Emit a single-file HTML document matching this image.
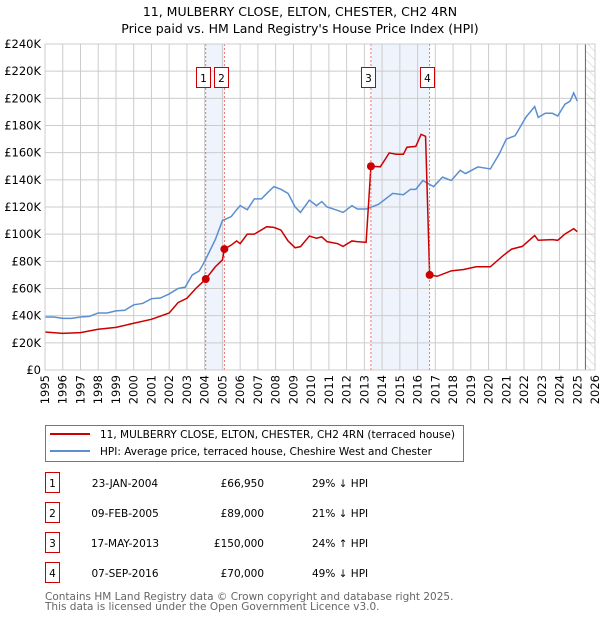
<!DOCTYPE html>
<html><head><meta charset="utf-8"><style>
body{margin:0;background:#fff;font-family:"DejaVu Sans","Liberation Sans",sans-serif;}
svg text{font-family:"DejaVu Sans","Liberation Sans",sans-serif;}
</style></head><body>
<svg id="chart" width="600" height="620" xmlns="http://www.w3.org/2000/svg">
<defs><pattern id="hatch" width="6" height="6" patternUnits="userSpaceOnUse" patternTransform="rotate(-45)"><line x1="0" y1="0" x2="0" y2="6" stroke="#ccc" stroke-width="1"/></pattern></defs>
<text x="300" y="16" text-anchor="middle" font-size="12.5">11, MULBERRY CLOSE, ELTON, CHESTER, CH2 4RN</text>
<text x="300" y="33" text-anchor="middle" font-size="12.5">Price paid vs. HM Land Registry's House Price Index (HPI)</text>
<g id="shade"></g><g id="grid"></g><g id="series"></g><g id="markers"></g><g id="axes"></g>
<g>
<rect x="45.5" y="425.5" width="418" height="36" fill="#fff" stroke="#777"/>
<line x1="50" y1="434" x2="90" y2="434" stroke="#cc0000" stroke-width="2"/>
<text x="100" y="438" font-size="10.5">11, MULBERRY CLOSE, ELTON, CHESTER, CH2 4RN (terraced house)</text>
<line x1="50" y1="451" x2="90" y2="451" stroke="#5b8fd0" stroke-width="2"/>
<text x="100" y="455" font-size="10.5">HPI: Average price, terraced house, Cheshire West and Chester</text>
</g>
<g id="table" font-size="10.5"></g>
<text x="45" y="600" font-size="10.5" fill="#666">Contains HM Land Registry data © Crown copyright and database right 2025.</text>
<text x="45" y="610" font-size="10.5" fill="#666">This data is licensed under the Open Government Licence v3.0.</text>
</svg>
<script>
const hpiYears=[1995,1995.5,1996,1996.5,1997,1997.5,1998,1998.5,1999,1999.5,2000,2000.5,2001,2001.5,2002,2002.5,2002.9,2003.3,2003.7,2004,2004.6,2005,2005.5,2005.8,2006,2006.4,2006.8,2007.2,2007.5,2007.9,2008.3,2008.7,2009.1,2009.4,2009.9,2010.3,2010.6,2010.9,2011.5,2011.8,2012.3,2012.6,2013.1,2013.8,2014.6,2015.2,2015.6,2015.9,2016.3,2016.9,2017.4,2017.9,2018.4,2018.7,2019.4,2020.1,2020.6,2021,2021.5,2022.1,2022.6,2022.8,2023.2,2023.6,2023.9,2024.3,2024.6,2024.8,2025];
const hpiValues=[39,39,38,38,39,39.5,42,42,43.5,44,48,49,52.5,53,56,60,61,70,73,80,96,110,113,118,121,118,126,126,130,135,133,130,120,116,125,121,124,120,117.5,116,121,118.5,118.5,122,130,129,133,133,139.5,135,142,139.5,147,144.6,149.5,148,159,170,172.5,186,194,186,189,189,187,195.6,198,204,198];
const priceYears=[1995,1996,1997,1998,1999,2000,2001,2002,2002.5,2003,2003.5,2004.06,2004.6,2005.0,2005.11,2005.5,2005.8,2006,2006.4,2006.8,2007.5,2007.9,2008.3,2008.7,2009.1,2009.4,2009.9,2010.3,2010.6,2010.9,2011.5,2011.8,2012.3,2012.6,2013.1,2013.37,2013.9,2014.2,2014.4,2014.8,2015.2,2015.4,2015.9,2016.2,2016.45,2016.68,2017.1,2017.9,2018.6,2019.3,2020.1,2020.8,2021.3,2021.9,2022.6,2022.8,2023.6,2023.9,2024.3,2024.8,2025];
const priceValues=[28,27,27.5,30,31.4,34.4,37.3,42,49.6,52.8,60,66.95,76,81,89,92,95,93,100,100,105.5,105,103,95,90,90.8,98.6,97,98,94.5,93,91,95,94.5,94,150,149.6,155.6,159.8,158.8,158.8,164,164.6,173.5,172,70,69,73,74,76,76,84,89,91,99,95.5,96,95.5,100,104,101.8];
const saleLabels=["1","2","3","4"];
const saleYears=[2004.06,2005.11,2013.37,2016.68];
const saleValues=[66.95,89,150,70];
const saleDates=["23-JAN-2004","09-FEB-2005","17-MAY-2013","07-SEP-2016"];
const salePrices=["£66,950","£89,000","£150,000","£70,000"];
const saleHpi=["29% ↓ HPI","21% ↓ HPI","24% ↑ HPI","49% ↓ HPI"];
const yTicks=[0,20,40,60,80,100,120,140,160,180,200,220,240];
const xTicks=[1995,1996,1997,1998,1999,2000,2001,2002,2003,2004,2005,2006,2007,2008,2009,2010,2011,2012,2013,2014,2015,2016,2017,2018,2019,2020,2021,2022,2023,2024,2025,2026];
const X0=45,X1=595,Y0=370,Y1=44;
const xs=y=>X0+(y-1995)/(2026-1995)*(X1-X0);
const ys=v=>Y0-v/240*(Y0-Y1);
const NS="http://www.w3.org/2000/svg";
function mk(tag,parent,attrs){const e=document.createElementNS(NS,tag);for(const k in attrs)e.setAttribute(k,attrs[k]);document.getElementById(parent).appendChild(e);return e;}
yTicks.forEach(v=>{const l=mk('line','grid',{x1:X0,x2:X1,y1:ys(v),y2:ys(v),stroke:'#ccc'});


const t=mk('text','axes',{x:X0-4,y:ys(v)+4,'text-anchor':'end','font-size':'11.5'});t.textContent=v===0?'£0':'£'+v+'K';

});
xTicks.forEach(y=>{const l=mk('line','grid',{x1:xs(y),x2:xs(y),y1:Y1,y2:Y0,stroke:'#ccc'});


const t=mk('text','axes',{x:0,y:0,'text-anchor':'end','font-size':'11.5',transform:`translate(${xs(y)+4},${Y0+5}) rotate(-90)`});t.textContent=y;

});
for(let i=0;i<4;i+=2){const r=mk('rect','shade',{x:xs(saleYears[i]),y:Y1,width:xs(saleYears[i+1])-xs(saleYears[i]),height:Y0-Y1,fill:'#eef3fc'});

}
const hx=xs(2025.46);
const h=mk('rect','shade',{x:hx,y:Y1,width:X1-hx,height:Y0-Y1,fill:'url(#hatch)'});


const hl=mk('line','axes',{x1:hx,x2:hx,y1:Y1,y2:Y0,stroke:'#666'});


const fr=mk('rect','axes',{x:X0,y:Y1,width:X1-X0,height:Y0-Y1,fill:'none',stroke:'#ccc'});


const hp=mk('polyline','series',{points:hpiYears.map((y,i)=>xs(y)+','+ys(hpiValues[i])).join(' '),fill:'none',stroke:'#5b8fd0','stroke-width':1.5});


const pp=mk('polyline','series',{points:priceYears.map((y,i)=>xs(y)+','+ys(priceValues[i])).join(' '),fill:'none',stroke:'#cc0000','stroke-width':1.5});


saleYears.forEach((y,i)=>{
const vl=mk('line','markers',{x1:xs(y),x2:xs(y),y1:Y1,y2:Y0,stroke:'#e55','stroke-dasharray':'2,2','stroke-width':0.8});


const c=mk('circle','markers',{cx:xs(y),cy:ys(saleValues[i]),r:4,fill:'#cc0000'});


const bx=Math.round(xs(y)-10)+0.5;
const b=mk('rect','markers',{x:bx,y:67.5,width:14,height:20,fill:'#fff',stroke:'#cc0000'});


const t=mk('text','markers',{x:bx+7,y:82,'text-anchor':'middle','font-size':'10.5'});t.textContent=saleLabels[i];


const ry=[483,513,543,573][i];
const tb=mk('rect','table',{x:45.5,y:ry-10.5,width:14,height:20,fill:'#fff',stroke:'#cc0000'});


const t1=mk('text','table',{x:52.5,y:ry+4,'text-anchor':'middle'});t1.textContent=saleLabels[i];


const t2=mk('text','table',{x:125,y:ry+4,'text-anchor':'middle'});t2.textContent=saleDates[i];


const t3=mk('text','table',{x:264,y:ry+4,'text-anchor':'end'});t3.textContent=salePrices[i];


const t4=mk('text','table',{x:312,y:ry+4});t4.textContent=saleHpi[i];


});
</script>
</body></html>
